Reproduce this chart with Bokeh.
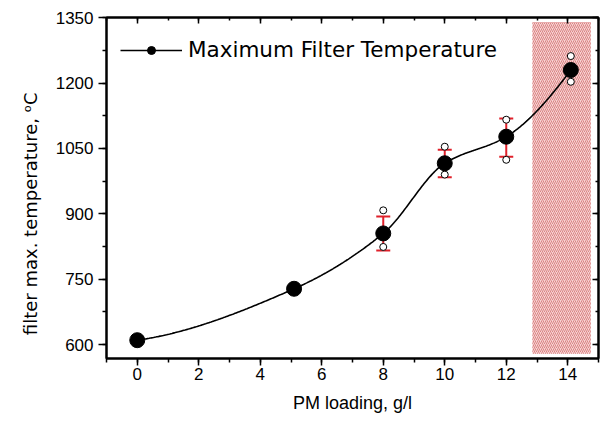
import numpy as np
from bokeh.plotting import figure
from bokeh.models import (ColumnDataSource, Whisker, TeeHead, LinearAxis,
                          SingleIntervalTicker, Legend, LegendItem,
                          CustomJSTickFormatter)
from bokeh.embed import file_html
from bokeh.resources import INLINE

# ---- data ----
loading = [0, 5.1, 8, 10, 12, 14.1]
max_temp = [610, 728, 855, 1016, 1077, 1230]

err_x = [8, 10, 12, 14.1]
err_hi = [894, 1047, 1119, 1259]
err_lo = [816, 984, 1031, 1200]
mark_hi = [908, 1054, 1116, 1262]
mark_lo = [824, 990, 1024, 1203]

zone_x = [12.85, 14.75]
zone_y = [579, 1340]

x_label = "PM loading, g/l"
y_label = "filter max. temperature, \u1d52C"
series_name = "Maximum Filter Temperature"


def pchip(xs, ys, n=400):
    xs = np.asarray(xs, float)
    ys = np.asarray(ys, float)
    h = np.diff(xs)
    dl = np.diff(ys) / h
    k = len(xs)
    d = np.zeros(k)
    for i in range(1, k - 1):
        if dl[i - 1] * dl[i] <= 0:
            d[i] = 0
        else:
            w1 = 2 * h[i] + h[i - 1]
            w2 = h[i] + 2 * h[i - 1]
            d[i] = (w1 + w2) / (w1 / dl[i - 1] + w2 / dl[i])

    def end(h0, h1, d0, d1):
        v = ((2 * h0 + h1) * d0 - h0 * d1) / (h0 + h1)
        if np.sign(v) != np.sign(d0):
            return 0.0
        if np.sign(d0) != np.sign(d1) and abs(v) > 3 * abs(d0):
            return 3 * d0
        return v

    d[0] = end(h[0], h[1], dl[0], dl[1])
    d[-1] = end(h[-1], h[-2], dl[-1], dl[-2])
    xx = np.linspace(xs[0], xs[-1], n)
    yy = np.empty_like(xx)
    for j, x in enumerate(xx):
        i = min(np.searchsorted(xs, x, side="right") - 1, k - 2)
        t = (x - xs[i]) / h[i]
        h00 = 2 * t ** 3 - 3 * t ** 2 + 1
        h10 = t ** 3 - 2 * t ** 2 + t
        h01 = -2 * t ** 3 + 3 * t ** 2
        h11 = t ** 3 - t ** 2
        yy[j] = (h00 * ys[i] + h10 * h[i] * d[i] + h01 * ys[i + 1]
                 + h11 * h[i] * d[i + 1])
    return xx, yy


p = figure(width=606, height=419, x_range=(-1, 15), y_range=(568, 1350.5),
           output_backend="svg", toolbar_location=None,
           min_border_left=106, min_border_right=8, min_border_top=17,
           min_border_bottom=61)
p.xgrid.visible = False
p.ygrid.visible = False
p.outline_line_color = "black"
p.outline_line_width = 2
p.background_fill_color = "white"
p.border_fill_color = "white"

xt = SingleIntervalTicker(interval=2, num_minor_ticks=2)
yt = SingleIntervalTicker(interval=150, num_minor_ticks=2)

# hatched region
p.quad(left=[zone_x[0]], right=[zone_x[1]], bottom=[zone_y[0]], top=[zone_y[1]],
       fill_color="#f7d2d2", line_color=None, hatch_pattern="/",
       hatch_color="#d27070", hatch_scale=4, hatch_weight=0.8)

# smooth connecting curve
sx, sy = pchip(loading, max_temp)
line_r = p.line(sx, sy, line_color="black", line_width=1.6)

# min/max hollow markers
p.scatter(err_x, mark_hi, marker="circle", size=7, fill_color="white",
          line_color="black", line_width=1)
p.scatter(err_x, mark_lo, marker="circle", size=7, fill_color="white",
          line_color="black", line_width=1)

# error bars
esrc = ColumnDataSource(dict(x=err_x, upper=err_hi, lower=err_lo))
red = "#e0202a"
wh = Whisker(base="x", upper="upper", lower="lower", source=esrc,
             line_color=red, line_width=2,
             upper_head=TeeHead(size=14, line_color=red, line_width=2),
             lower_head=TeeHead(size=14, line_color=red, line_width=2))
p.add_layout(wh)

# small dot used for the legend symbol (hidden under the first point)
dot = p.scatter(x=loading[:1], y=max_temp[:1], marker="circle", size=9,
                color="black")

# data points
pts = p.scatter(loading, max_temp, marker="circle", size=15, color="black",
                level="overlay")

legend = Legend(items=[LegendItem(label=series_name, renderers=[line_r, dot])],
                location=(14, 296), border_line_color=None,
                background_fill_alpha=0, padding=0, margin=0,
                glyph_width=62, glyph_height=20, label_height=20,
                label_standoff=6, label_text_font="DejaVu Sans",
                label_text_font_size="21.5px", label_text_baseline="middle",
                label_text_color="black")
p.add_layout(legend, "center")

# bottom / left axes
for ax in (p.xaxis[0], p.yaxis[0]):
    ax.axis_line_width = 2
    ax.major_tick_line_width = 1.5
    ax.minor_tick_line_width = 1.5
    ax.major_tick_in = 0
    ax.minor_tick_in = 0
    ax.major_label_text_font = "Liberation Sans"
    ax.major_label_text_font_size = "17px"
    ax.major_label_text_color = "black"
    ax.axis_label_text_font_style = "normal"
    ax.axis_label_text_color = "black"

p.xaxis[0].ticker = xt
p.xaxis[0].major_tick_out = 7
p.xaxis[0].minor_tick_out = 4
p.xaxis[0].major_label_standoff = 2
p.xaxis[0].axis_label = x_label
p.xaxis[0].axis_label_text_font = "Liberation Sans"
p.xaxis[0].axis_label_text_font_size = "18px"
p.xaxis[0].axis_label_standoff = 10

p.yaxis[0].ticker = yt
p.yaxis[0].major_tick_out = 8
p.yaxis[0].minor_tick_out = 4
p.yaxis[0].major_label_standoff = 5
# trailing no-break spaces push the title lower, as in the reference
p.yaxis[0].axis_label = y_label + "\u00a0" * 9
p.yaxis[0].axis_label_text_font = "DejaVu Sans"
p.yaxis[0].axis_label_text_font_size = "18px"
p.yaxis[0].axis_label_standoff = 12

# mirrored top / right axes with inward ticks
blank = CustomJSTickFormatter(code="return ''")
for side, tk in (("above", xt), ("right", yt)):
    ax = LinearAxis(ticker=tk, formatter=blank, axis_line_width=2,
                    major_tick_in=6, major_tick_out=0, minor_tick_in=3,
                    minor_tick_out=0, major_tick_line_width=1.5,
                    minor_tick_line_width=1.5, major_label_standoff=0)
    p.add_layout(ax, side)

open("out.html", "w").write(file_html(p, INLINE))
